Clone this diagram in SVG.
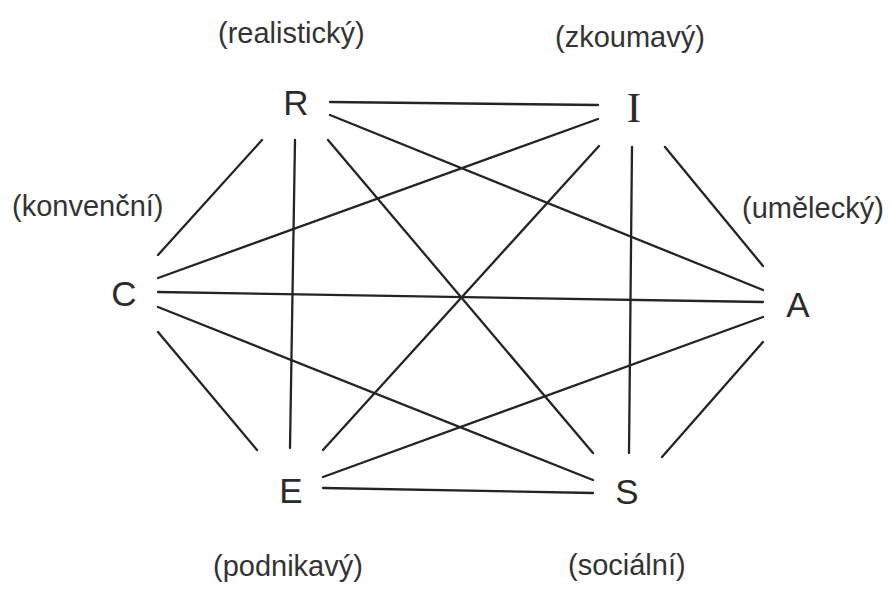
<svg xmlns="http://www.w3.org/2000/svg" width="891" height="589" viewBox="0 0 891 589">
<style>
.bg{fill:#ffffff}
.edge{stroke:#242424;stroke-width:2.3;stroke-linecap:round;fill:none}
.node{font-family:"Liberation Sans",Arial,sans-serif;font-size:35px;fill:#2b2b2b;text-anchor:middle}
.serif{font-family:"Liberation Serif","Times New Roman",serif;font-size:43px}
.lbl{font-family:"Liberation Sans",Arial,sans-serif;font-size:29px;fill:#333333}
</style>
<rect class="bg" x="0" y="0" width="891" height="589"/>
<g id="connectors">
<line class="edge" x1="330" y1="102" x2="598" y2="105"/>
<line class="edge" x1="330" y1="115" x2="763" y2="290"/>
<line class="edge" x1="262" y1="140" x2="158" y2="255"/>
<line class="edge" x1="295" y1="140" x2="290" y2="448"/>
<line class="edge" x1="328" y1="140" x2="593" y2="453"/>
<line class="edge" x1="598" y1="119" x2="158" y2="278"/>
<line class="edge" x1="599" y1="146" x2="323" y2="450"/>
<line class="edge" x1="632" y1="147" x2="629" y2="453"/>
<line class="edge" x1="665" y1="147" x2="763" y2="266"/>
<line class="edge" x1="158" y1="292" x2="763" y2="302"/>
<line class="edge" x1="158" y1="307" x2="593" y2="480"/>
<line class="edge" x1="158" y1="332" x2="257" y2="450"/>
<line class="edge" x1="763" y1="317" x2="323" y2="477"/>
<line class="edge" x1="763" y1="342" x2="662" y2="457"/>
<line class="edge" x1="323" y1="488" x2="593" y2="493"/>
</g>
<g id="node-R">
<text class="node" x="296" y="115">R</text>
<text class="lbl" x="218" y="43">(realistický)</text>
</g>
<g id="node-I">
<text class="node serif" x="634" y="122">I</text>
<text class="lbl" x="555" y="47">(zkoumavý)</text>
</g>
<g id="node-A">
<text class="node" x="798" y="317">A</text>
<text class="lbl" x="742" y="218">(umělecký)</text>
</g>
<g id="node-S">
<text class="node" x="627" y="504">S</text>
<text class="lbl" x="568" y="575">(sociální)</text>
</g>
<g id="node-E">
<text class="node" x="291" y="503">E</text>
<text class="lbl" x="213" y="576">(podnikavý)</text>
</g>
<g id="node-C">
<text class="node" x="124" y="306">C</text>
<text class="lbl" x="12" y="216">(konvenční)</text>
</g>
</svg>
